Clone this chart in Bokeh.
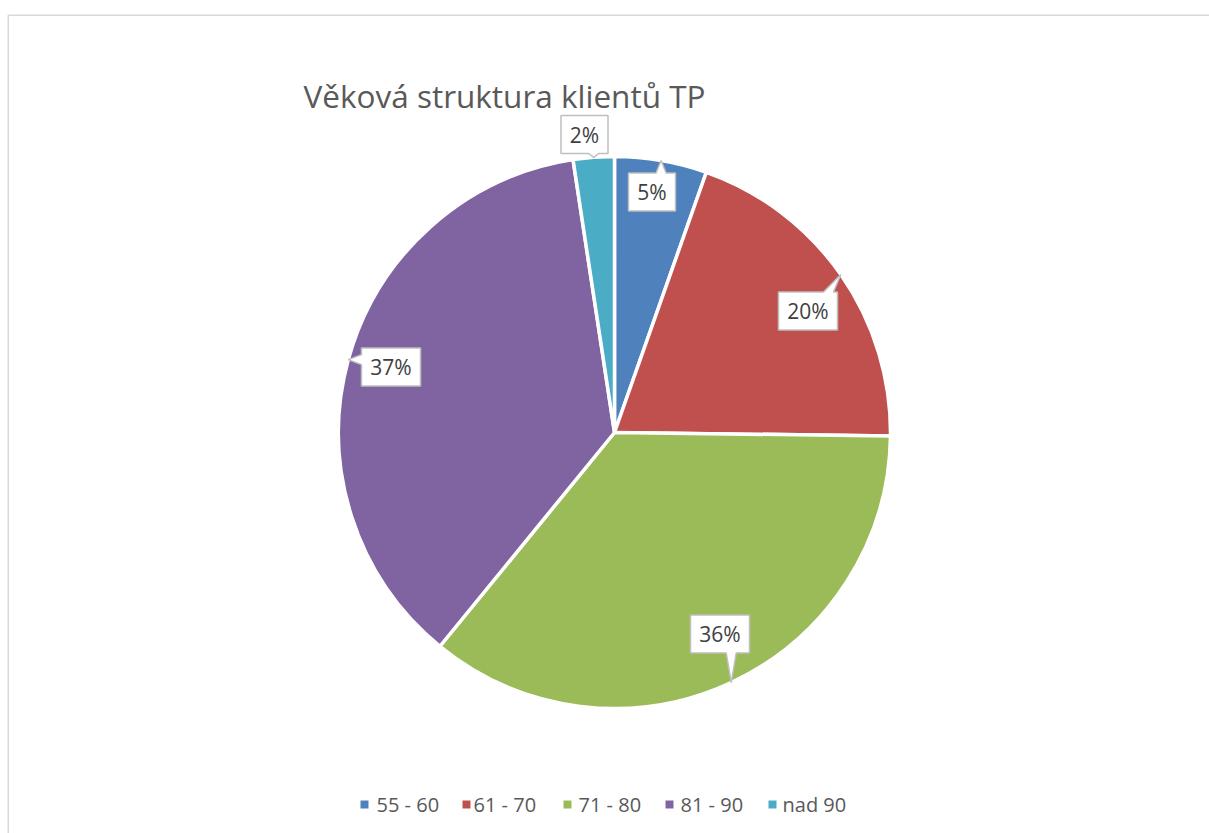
import math
from bokeh.plotting import figure
from bokeh.models import Range1d, ColumnDataSource
from bokeh.core.properties import value
from bokeh.embed import file_html
from bokeh.resources import INLINE

# ---- data ----
categories = ["55 - 60", "61 - 70", "71 - 80", "81 - 90", "nad 90"]
shares = [5.4, 19.8, 35.7, 36.7, 2.4]
colors = ["#4F81BD", "#C0504D", "#9BBB59", "#8064A2", "#4BACC6"]
title_text = "Věková struktura klientů TP"

# ---- layout (screenshot pixel coordinates) ----
W, H = 1209, 833
CX, CY, R = 614, 432, 276
FONT = "Open Sans"
label_centers = [(651.5, 191.5), (807.5, 310.5), (719.5, 633.5), (390.5, 366.5), (584, 134)]
legend_square_x = [364, 466, 567, 669, 772]
legend_text_x = [376, 473, 578, 680, 782]
LEG_Y = 804


def Y(y):
    return H - y


p = figure(width=W, height=H, x_range=Range1d(0, W), y_range=Range1d(0, H),
           output_backend="svg", toolbar_location=None, x_axis_type=None, y_axis_type=None,
           min_border=0, outline_line_color=None, background_fill_color="white")
p.xgrid.visible = False
p.ygrid.visible = False

# chart-area border
p.line(x=[7.75, 7.75, 1230], y=[Y(860), Y(14.75), Y(14.75)], line_color="#D9D9D9", line_width=1.5)

# pie wedges
total = sum(shares)
cum = 0.0
starts, ends, mids = [], [], []
for s in shares:
    a0 = cum / total
    cum += s
    a1 = cum / total
    starts.append(math.pi / 2 - 2 * math.pi * a1)
    ends.append(math.pi / 2 - 2 * math.pi * a0)
    mids.append((a0 + a1) / 2)

src = ColumnDataSource(dict(x=[CX] * len(shares), y=[Y(CY)] * len(shares),
                            start=starts, end=ends, color=colors, cat=categories))
p.wedge(x="x", y="y", radius=R, start_angle="start", end_angle="end", fill_color="color",
        line_color="white", line_width=3.5, source=src)


def callout(cx, cy, w, h, tx, ty, nb=10):
    x0, x1 = cx - w / 2, cx + w / 2
    y0, y1 = cy - h / 2, cy + h / 2
    pts = []
    if y0 <= ty <= y1:
        side = "left" if tx < x0 else "right"
    elif ty < y0:
        side = "top"
    else:
        side = "bottom"
    bx = min(max(tx, x0 + nb / 2 + 4), x1 - nb / 2 - 4)
    by = min(max(ty, y0 + nb / 2 + 4), y1 - nb / 2 - 4)
    pts.append((x0, y0))
    if side == "top":
        pts += [(bx - nb / 2, y0), (tx, ty), (bx + nb / 2, y0)]
    pts.append((x1, y0))
    if side == "right":
        pts += [(x1, by - nb / 2), (tx, ty), (x1, by + nb / 2)]
    pts.append((x1, y1))
    if side == "bottom":
        pts += [(bx + nb / 2, y1), (tx, ty), (bx - nb / 2, y1)]
    pts.append((x0, y1))
    if side == "left":
        pts += [(x0, by + nb / 2), (tx, ty), (x0, by - nb / 2)]
    return [q[0] for q in pts], [Y(q[1]) for q in pts]


labels = ["%d%%" % round(100 * s / total) for s in shares]
pxs, pys = [], []
for (lx, ly), m, lab in zip(label_centers, mids, labels):
    ang = 2 * math.pi * m
    tx = CX + R * math.sin(ang)
    ty = CY - R * math.cos(ang)
    w = 47 if len(lab) == 2 else 59
    xs, ys = callout(lx, ly, w, 38, tx, ty)
    pxs.append(xs)
    pys.append(ys)
p.patches(xs=pxs, ys=pys, fill_color="white", line_color="#BFBFBF", line_width=1.5)
p.text(x=[c[0] for c in label_centers], y=[Y(c[1]) for c in label_centers], text=labels,
       text_align="center", text_baseline="middle", text_font=value(FONT),
       text_font_size="21px", text_color="#404040")

# title
p.text(x=[303], y=[Y(95)], text=[title_text], text_align="left", text_baseline="alphabetic",
       text_font=value(FONT), text_font_size="31.5px", text_color="#595959")

# legend
p.rect(x=legend_square_x, y=[Y(LEG_Y)] * 5, width=8, height=8, fill_color=colors, line_color=None)
p.text(x=legend_text_x, y=[Y(LEG_Y)] * 5, text=categories, text_align="left", text_baseline="middle",
       text_font=value(FONT), text_font_size="20px", text_color="#595959")

open("out.html", "w").write(file_html(p, INLINE))
